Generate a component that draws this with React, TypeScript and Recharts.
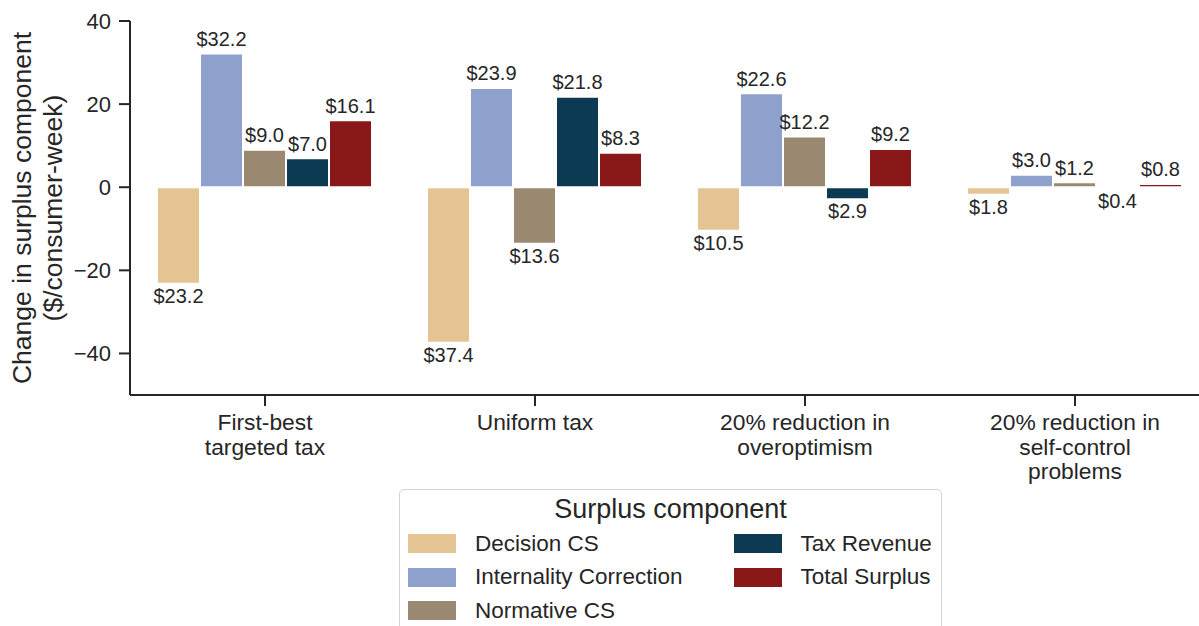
import { Bar, BarChart, XAxis, YAxis, Legend, LabelList } from 'recharts';

const categories = [
    'First-best\ntargeted tax',
    'Uniform tax',
    '20% reduction in\noveroptimism',
    '20% reduction in\nself-control\nproblems',
];

const decisionCS = [-23.2, -37.4, -10.5, -1.8];
const internalityCorrection = [32.2, 23.9, 22.6, 3.0];
const normativeCS = [9.0, -13.6, 12.2, 1.2];
const taxRevenue = [7.0, 21.8, -2.9, -0.4];
const totalSurplus = [16.1, 8.3, 9.2, 0.8];

const yTicks = [-40, -20, 0, 20, 40];

const series = [
    { key: 'decision', name: 'Decision CS', color: '#E4C493', values: decisionCS },
    { key: 'internality', name: 'Internality Correction', color: '#8EA1CC', values: internalityCorrection },
    { key: 'normative', name: 'Normative CS', color: '#9B8870', values: normativeCS },
    { key: 'tax', name: 'Tax Revenue', color: '#0D3A53', values: taxRevenue },
    { key: 'total', name: 'Total Surplus', color: '#8B1818', values: totalSurplus },
];

const data = categories.map((name, i) => {
    const row: Record<string, string | number> = { name };
    series.forEach((s) => {
        row[s.key] = s.values[i];
    });
    return row;
});

const FONT = '"Liberation Sans", Arial, sans-serif';
const INK = '#262626';

function ValueLabel(props: any) {
    const { x, y, width, height, value } = props;
    if (value === undefined || value === null) return null;
    const v = Number(value);
    const top = Math.min(y, y + height);
    const bottom = Math.max(y, y + height);
    const ty = v >= 0 ? top - 7.5 : bottom + 19;
    return (
        <text x={x + width / 2} y={ty} textAnchor="middle" fontSize={20} fill={INK} fontFamily={FONT}>
            {`$${Math.abs(v).toFixed(1)}`}
        </text>
    );
}

function XTick(props: any) {
    const { x, y, payload } = props;
    const lines = String(payload.value).split('\n');
    return (
        <text x={x} y={y} textAnchor="middle" fontSize={22.8} fill={INK} fontFamily={FONT}>
            {lines.map((line, i) => (
                <tspan key={i} x={x} y={y + 22 + i * 24.5}>
                    {line}
                </tspan>
            ))}
        </text>
    );
}

function YTick(props: any) {
    const { x, y, payload } = props;
    const v = Number(payload.value);
    const txt = v < 0 ? `\u2212${Math.abs(v)}` : `${v}`;
    return (
        <text x={x} y={y} dy="0.355em" textAnchor="end" fontSize={22} fill={INK} fontFamily={FONT}>
            {txt}
        </text>
    );
}

function YLabel(props: any) {
    const vb = props.viewBox || { y: 21, height: 374 };
    const cy = vb.y + vb.height / 2;
    return (
        <g fontFamily={FONT} fontSize={26.5} fill={INK}>
            <text x={31} y={cy} textAnchor="middle" transform={`rotate(-90, 31, ${cy})`}>
                Change in surplus component
            </text>
            <text x={62} y={cy} textAnchor="middle" transform={`rotate(-90, 62, ${cy})`}>
                ($/consumer-week)
            </text>
        </g>
    );
}

function LegendBox() {
    const col1 = series.slice(0, 3);
    const col2 = series.slice(3);
    const item = (s: (typeof series)[number], row: number, col: number) => (
        <div key={s.key}>
            <div
                style={{
                    position: 'absolute',
                    left: col === 0 ? 8 : 334,
                    top: 44 + row * 33.5,
                    width: 48,
                    height: 19,
                    background: s.color,
                }}
            />
            <div
                style={{
                    position: 'absolute',
                    left: col === 0 ? 75 : 400.5,
                    top: 53.5 + row * 33.5,
                    transform: 'translateY(-50%)',
                    fontSize: 22.5,
                    color: INK,
                    whiteSpace: 'nowrap',
                    lineHeight: 1,
                }}
            >
                {s.name}
            </div>
        </div>
    );
    return (
        <div
            style={{
                position: 'relative',
                width: 543,
                height: 160,
                boxSizing: 'border-box',
                border: '1.3px solid #d4d4d4',
                borderRadius: 5,
                background: 'rgba(255,255,255,0.85)',
                fontFamily: FONT,
            }}
        >
            <div
                style={{
                    position: 'absolute',
                    left: 0,
                    right: 0,
                    top: 19,
                    transform: 'translateY(-50%)',
                    textAlign: 'center',
                    fontSize: 27,
                    color: INK,
                    lineHeight: 1,
                }}
            >
                Surplus component
            </div>
            {col1.map((s, i) => item(s, i, 0))}
            {col2.map((s, i) => item(s, i, 1))}
        </div>
    );
}

export default function App() {
    return (
        <div
            style={{
                position: 'absolute',
                left: 0,
                top: 0,
                width: 1199,
                height: 626,
                overflow: 'hidden',
                background: '#fff',
            }}
        >
            <BarChart
                width={1210}
                height={626}
                data={data}
                margin={{ top: 21, right: 0, left: 50, bottom: 0 }}
                barCategoryGap="10%"
                barGap={0}
            >
                <XAxis
                    dataKey="name"
                    height={231}
                    interval={0}
                    tick={<XTick />}
                    tickSize={11}
                    tickMargin={2}
                    axisLine={{ stroke: INK, strokeWidth: 2 }}
                    tickLine={{ stroke: INK, strokeWidth: 2 }}
                />
                <YAxis
                    width={80}
                    domain={[-50, 40]}
                    ticks={yTicks}
                    allowDataOverflow
                    tick={<YTick />}
                    tickSize={11}
                    tickMargin={8}
                    axisLine={{ stroke: INK, strokeWidth: 2 }}
                    tickLine={{ stroke: INK, strokeWidth: 2 }}
                    label={<YLabel />}
                />
                <Legend
                    layout="horizontal"
                    verticalAlign="middle"
                    align="center"
                    wrapperStyle={{ position: 'absolute', left: 399, top: 489, width: 543 }}
                    content={() => <LegendBox />}
                />
                {series.map((s) => (
                    <Bar
                        key={s.key}
                        dataKey={s.key}
                        name={s.name}
                        fill={s.color}
                        stroke="#fff"
                        strokeWidth={2}
                        isAnimationActive={false}
                    >
                        <LabelList dataKey={s.key} content={<ValueLabel />} />
                    </Bar>
                ))}
            </BarChart>
        </div>
    );
}
